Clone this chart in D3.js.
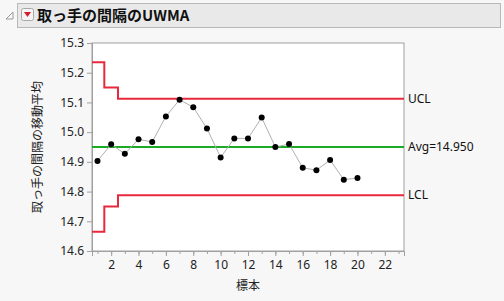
<!DOCTYPE html>
<html>
<head>
<meta charset="utf-8">
<script src="https://cdn.jsdelivr.net/npm/d3@7"></script>
<style>
  body { margin: 0; background: #f7f7f7; }
  svg { display: block; font-family: "Noto Sans CJK JP", "Noto Sans", sans-serif; }
</style>
</head>
<body>
<div id="chart"></div>
<script>
const width = 504, height = 301;

// sample numbers and UWMA values
const samples = d3.range(1, 21);
const uwma = [14.903, 14.959, 14.927, 14.976, 14.967, 15.053, 15.109, 15.084, 15.012, 14.915,
              14.979, 14.979, 15.049, 14.950, 14.960, 14.880, 14.872, 14.906, 14.840, 14.846];
const avg = 14.950;
const ucl = [15.235, 15.150, 15.112, 15.112, 15.112, 15.112, 15.112, 15.112, 15.112, 15.112,
             15.112, 15.112, 15.112, 15.112, 15.112, 15.112, 15.112, 15.112, 15.112, 15.112];
const lcl = [14.665, 14.750, 14.788, 14.788, 14.788, 14.788, 14.788, 14.788, 14.788, 14.788,
             14.788, 14.788, 14.788, 14.788, 14.788, 14.788, 14.788, 14.788, 14.788, 14.788];
const yTicks = [14.6, 14.7, 14.8, 14.9, 15.0, 15.1, 15.2, 15.3];
const xTicks = [2, 4, 6, 8, 10, 12, 14, 16, 18, 20, 22];

const margin = {left: 92, right: 100, top: 43, bottom: 50};

const svg = d3.select("#chart")
    .append("svg")
    .attr("width", width)
    .attr("height", height);

// title bar
svg.append("rect")
    .attr("x", 17.5).attr("y", 3.5)
    .attr("width", 483).attr("height", 24)
    .attr("fill", "#e9e9e9").attr("stroke", "#b8b8b8");
svg.append("path")
    .attr("d", "M6,19 L13,12 L13,19 Z")
    .attr("fill", "none").attr("stroke", "#999").attr("stroke-width", 1);
svg.append("rect")
    .attr("x", 21.5).attr("y", 8.5).attr("width", 12).attr("height", 12).attr("rx", 2)
    .attr("fill", "#f4f4f4").attr("stroke", "#a8a8a8");
svg.append("path")
    .attr("d", "M24,12 L31,12 L27.5,17 Z")
    .attr("fill", "#d41c2c");
svg.append("text")
    .attr("x", 37).attr("y", 21)
    .attr("font-size", 15).attr("font-weight", "bold").attr("fill", "#111")
    .text("取っ手の間隔のUWMA");

const x = d3.scaleLinear().domain([0.6, 23.4]).range([margin.left, width - margin.right]);
const y = d3.scaleLinear().domain([14.6, 15.3]).range([height - margin.bottom, margin.top]);

// plot area
svg.append("rect")
    .attr("x", margin.left).attr("y", margin.top)
    .attr("width", width - margin.left - margin.right)
    .attr("height", height - margin.top - margin.bottom)
    .attr("fill", "#fff").attr("stroke", "#a0a0a0");

// axes
const yAxis = svg.append("g")
    .attr("transform", `translate(${margin.left},0)`)
    .call(d3.axisLeft(y).tickValues(yTicks).tickFormat(d3.format(".1f")).tickSize(5).tickPadding(3));
const xMinor = svg.append("g")
    .attr("transform", `translate(0,${height - margin.bottom})`)
    .call(d3.axisBottom(x).tickValues(d3.range(1, 24)).tickFormat("").tickSize(3));
const xAxis = svg.append("g")
    .attr("transform", `translate(0,${height - margin.bottom})`)
    .call(d3.axisBottom(x).tickValues(xTicks).tickSize(5).tickPadding(4));
[yAxis, xAxis, xMinor].forEach(g => {
    g.select(".domain").attr("stroke", "#a0a0a0");
    g.selectAll(".tick line").attr("stroke", "#a0a0a0");
    g.selectAll("text").attr("font-size", 12).attr("fill", "#222")
        .attr("font-family", "Noto Sans, sans-serif");
});

// step line for limits
const stepPts = arr => {
    const pts = [];
    arr.forEach((v, i) => {
        const s = samples[i];
        pts.push([i === 0 ? x.domain()[0] : s - 0.5, v]);
        pts.push([i === arr.length - 1 ? x.domain()[1] : s + 0.5, v]);
    });
    return pts;
};
const line = d3.line().x(d => x(d[0])).y(d => y(d[1]));

[ucl, lcl].forEach(arr => {
    svg.append("path")
        .datum(stepPts(arr))
        .attr("d", line)
        .attr("fill", "none")
        .attr("stroke", "#e8283c")
        .attr("stroke-width", 2);
});
svg.append("line")
    .attr("x1", x.range()[0]).attr("x2", x.range()[1])
    .attr("y1", y(avg)).attr("y2", y(avg))
    .attr("stroke", "#1aaa26").attr("stroke-width", 2);

// data line and points
svg.append("path")
    .datum(samples.map((s, i) => [s, uwma[i]]))
    .attr("d", line)
    .attr("fill", "none")
    .attr("stroke", "#b0b0b0")
    .attr("stroke-width", 1);
svg.selectAll(".pt")
    .data(samples)
    .enter()
    .append("circle")
    .attr("class", "pt")
    .attr("cx", d => x(d))
    .attr("cy", (d, i) => y(uwma[i]))
    .attr("r", 3)
    .attr("fill", "#000");

// right labels
const rightLabels = [
    {text: "UCL", v: ucl[ucl.length - 1]},
    {text: "Avg=" + avg.toFixed(3), v: avg},
    {text: "LCL", v: lcl[lcl.length - 1]}
];
svg.selectAll(".rl")
    .data(rightLabels)
    .enter()
    .append("text")
    .attr("x", width - margin.right + 4)
    .attr("y", d => y(d.v))
    .attr("dy", "0.35em")
    .attr("font-size", 12)
    .attr("fill", "#111")
    .attr("font-family", "Noto Sans, sans-serif")
    .text(d => d.text);

// axis titles
svg.append("text")
    .attr("transform", `translate(42,${(margin.top + height - margin.bottom) / 2}) rotate(-90)`)
    .attr("text-anchor", "middle")
    .attr("font-size", 12).attr("fill", "#222")
    .text("取っ手の間隔の移動平均");
svg.append("text")
    .attr("x", (margin.left + width - margin.right) / 2).attr("y", 290)
    .attr("text-anchor", "middle")
    .attr("font-size", 12).attr("fill", "#222")
    .text("標本");
</script>
</body>
</html>
